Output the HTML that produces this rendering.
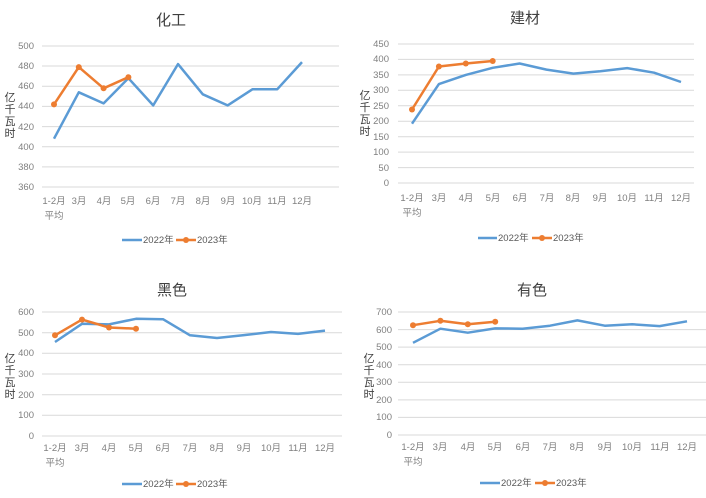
<!DOCTYPE html>
<html><head><meta charset="utf-8"><style>
html,body{margin:0;padding:0;background:#fff;}
svg{display:block;font-family:"Liberation Sans","Noto Sans CJK SC",sans-serif;}
.t{font-size:15px;fill:#404040;text-anchor:middle;}
.yl{font-size:9.5px;fill:#7f7f7f;text-anchor:end;}
.xl{font-size:9.5px;fill:#7f7f7f;text-anchor:middle;}
.ax{font-size:11px;fill:#404040;text-anchor:middle;}
.lg{font-size:9.5px;fill:#595959;}
.g{stroke:#d9d9d9;stroke-width:1;}
.b{fill:none;stroke:#5B9BD5;stroke-width:2.5;stroke-linejoin:round;}
.o{fill:none;stroke:#ED7D31;stroke-width:2.5;stroke-linejoin:round;}
.m{fill:#ED7D31;}
</style></head><body>
<svg width="706" height="498" viewBox="0 0 706 498">
<!-- Chart 1 -->
<text class="t" x="171" y="25">化工</text>
<g class="g">
<line x1="42" x2="339" y1="46" y2="46"/><line x1="42" x2="339" y1="66" y2="66"/><line x1="42" x2="339" y1="86.3" y2="86.3"/><line x1="42" x2="339" y1="106.4" y2="106.4"/><line x1="42" x2="339" y1="126.6" y2="126.6"/><line x1="42" x2="339" y1="146.7" y2="146.7"/><line x1="42" x2="339" y1="166.9" y2="166.9"/><line x1="42" x2="339" y1="187" y2="187"/>
</g>
<g class="yl"><text x="34" y="49">500</text><text x="34" y="69">480</text><text x="34" y="89">460</text><text x="34" y="109">440</text><text x="34" y="130">420</text><text x="34" y="150">400</text><text x="34" y="170">380</text><text x="34" y="190">360</text></g>
<g class="ax"><text x="10" y="101">亿</text><text x="10" y="113">千</text><text x="10" y="125">瓦</text><text x="10" y="137">时</text></g>
<g class="xl"><text x="54" y="204">1-2月</text><text x="54" y="219">平均</text><text x="79" y="204">3月</text><text x="104" y="204">4月</text><text x="128" y="204">5月</text><text x="153" y="204">6月</text><text x="178" y="204">7月</text><text x="203" y="204">8月</text><text x="228" y="204">9月</text><text x="252" y="204">10月</text><text x="277" y="204">11月</text><text x="302" y="204">12月</text></g>
<polyline class="b" points="54,138.7 78.8,92.3 103.6,103.4 128.4,78.2 153.2,105.4 178,64.1 202.8,94.3 227.6,105.4 252.4,89.3 277.2,89.3 302,62.1"/>
<polyline class="o" points="54,104.4 78.8,67.1 103.6,88.3 128.4,77.2"/>
<g class="m"><circle cx="54" cy="104.4" r="3"/><circle cx="78.8" cy="67.1" r="3"/><circle cx="103.6" cy="88.3" r="3"/><circle cx="128.4" cy="77.2" r="3"/></g>
<line x1="122" x2="142" y1="240" y2="240" stroke="#5B9BD5" stroke-width="2.5"/><text class="lg" x="143" y="243">2022年</text>
<line x1="176" x2="196" y1="240" y2="240" stroke="#ED7D31" stroke-width="2.5"/><circle class="m" cx="186" cy="240" r="3"/><text class="lg" x="197" y="243">2023年</text>

<!-- Chart 2 -->
<text class="t" x="525" y="23">建材</text>
<g class="g">
<line x1="398" x2="694" y1="44" y2="44"/><line x1="398" x2="694" y1="59.4" y2="59.4"/><line x1="398" x2="694" y1="74.9" y2="74.9"/><line x1="398" x2="694" y1="90.3" y2="90.3"/><line x1="398" x2="694" y1="105.8" y2="105.8"/><line x1="398" x2="694" y1="121.2" y2="121.2"/><line x1="398" x2="694" y1="136.7" y2="136.7"/><line x1="398" x2="694" y1="152.1" y2="152.1"/><line x1="398" x2="694" y1="167.6" y2="167.6"/><line x1="398" x2="694" y1="183" y2="183"/>
</g>
<g class="yl"><text x="389" y="47">450</text><text x="389" y="62">400</text><text x="389" y="78">350</text><text x="389" y="93">300</text><text x="389" y="109">250</text><text x="389" y="124">200</text><text x="389" y="140">150</text><text x="389" y="155">100</text><text x="389" y="171">50</text><text x="389" y="186">0</text></g>
<g class="ax"><text x="365" y="99">亿</text><text x="365" y="111">千</text><text x="365" y="123">瓦</text><text x="365" y="135">时</text></g>
<g class="xl"><text x="412" y="201">1-2月</text><text x="412" y="216">平均</text><text x="439" y="201">3月</text><text x="466" y="201">4月</text><text x="493" y="201">5月</text><text x="520" y="201">6月</text><text x="547" y="201">7月</text><text x="573" y="201">8月</text><text x="600" y="201">9月</text><text x="627" y="201">10月</text><text x="654" y="201">11月</text><text x="681" y="201">12月</text></g>
<polyline class="b" points="412,123.7 438.9,84.1 465.8,74.9 492.7,67.8 519.6,63.5 546.5,69.6 573.4,73.6 600.3,71.2 627.2,68.1 654.1,72.7 681,82"/>
<polyline class="o" points="412,109.5 438.9,66.5 465.8,63.5 492.7,61"/>
<g class="m"><circle cx="412" cy="109.5" r="3"/><circle cx="438.9" cy="66.5" r="3"/><circle cx="465.8" cy="63.5" r="3"/><circle cx="492.7" cy="61" r="3"/></g>
<line x1="478" x2="497" y1="238" y2="238" stroke="#5B9BD5" stroke-width="2.5"/><text class="lg" x="498" y="241">2022年</text>
<line x1="532" x2="552" y1="238" y2="238" stroke="#ED7D31" stroke-width="2.5"/><circle class="m" cx="542" cy="238" r="3"/><text class="lg" x="553" y="241">2023年</text>

<!-- Chart 3 -->
<text class="t" x="172" y="295">黑色</text>
<g class="g">
<line x1="42" x2="342" y1="312" y2="312"/><line x1="42" x2="342" y1="332.7" y2="332.7"/><line x1="42" x2="342" y1="353.3" y2="353.3"/><line x1="42" x2="342" y1="374" y2="374"/><line x1="42" x2="342" y1="394.7" y2="394.7"/><line x1="42" x2="342" y1="415.3" y2="415.3"/><line x1="42" x2="342" y1="436" y2="436"/>
</g>
<g class="yl"><text x="34" y="315">600</text><text x="34" y="336">500</text><text x="34" y="356">400</text><text x="34" y="377">300</text><text x="34" y="398">200</text><text x="34" y="418">100</text><text x="34" y="439">0</text></g>
<g class="ax"><text x="10" y="362">亿</text><text x="10" y="374">千</text><text x="10" y="386">瓦</text><text x="10" y="398">时</text></g>
<g class="xl"><text x="55" y="451">1-2月</text><text x="55" y="466">平均</text><text x="82" y="451">3月</text><text x="109" y="451">4月</text><text x="136" y="451">5月</text><text x="163" y="451">6月</text><text x="190" y="451">7月</text><text x="217" y="451">8月</text><text x="244" y="451">9月</text><text x="271" y="451">10月</text><text x="298" y="451">11月</text><text x="325" y="451">12月</text></g>
<polyline class="b" points="55,342 82,323.8 109,324.4 136,318.8 163,319.2 190,335.3 217,338 244,335.1 271,332 298,333.9 325,330.6"/>
<polyline class="o" points="55,335.3 82,319.6 109,327.5 136,328.7"/>
<g class="m"><circle cx="55" cy="335.3" r="3"/><circle cx="82" cy="319.6" r="3"/><circle cx="109" cy="327.5" r="3"/><circle cx="136" cy="328.7" r="3"/></g>
<line x1="122" x2="142" y1="484" y2="484" stroke="#5B9BD5" stroke-width="2.5"/><text class="lg" x="143" y="487">2022年</text>
<line x1="176" x2="196" y1="484" y2="484" stroke="#ED7D31" stroke-width="2.5"/><circle class="m" cx="186" cy="484" r="3"/><text class="lg" x="197" y="487">2023年</text>

<!-- Chart 4 -->
<text class="t" x="532" y="295">有色</text>
<g class="g">
<line x1="398" x2="706" y1="312" y2="312"/><line x1="398" x2="706" y1="329.6" y2="329.6"/><line x1="398" x2="706" y1="347.1" y2="347.1"/><line x1="398" x2="706" y1="364.7" y2="364.7"/><line x1="398" x2="706" y1="382.3" y2="382.3"/><line x1="398" x2="706" y1="399.9" y2="399.9"/><line x1="398" x2="706" y1="417.4" y2="417.4"/><line x1="398" x2="706" y1="435" y2="435"/>
</g>
<g class="yl"><text x="392" y="315">700</text><text x="392" y="333">600</text><text x="392" y="350">500</text><text x="392" y="368">400</text><text x="392" y="385">300</text><text x="392" y="403">200</text><text x="392" y="420">100</text><text x="392" y="438">0</text></g>
<g class="ax"><text x="369" y="362">亿</text><text x="369" y="374">千</text><text x="369" y="386">瓦</text><text x="369" y="398">时</text></g>
<g class="xl"><text x="413" y="450">1-2月</text><text x="413" y="465">平均</text><text x="440" y="450">3月</text><text x="468" y="450">4月</text><text x="495" y="450">5月</text><text x="523" y="450">6月</text><text x="550" y="450">7月</text><text x="577" y="450">8月</text><text x="605" y="450">9月</text><text x="632" y="450">10月</text><text x="660" y="450">11月</text><text x="687" y="450">12月</text></g>
<polyline class="b" points="413,342.8 440.4,328.7 467.8,332.7 495.2,328.4 522.6,328.7 550,325.7 577.4,320.4 604.8,325.7 632.2,324.3 659.6,326.1 687,321.3"/>
<polyline class="o" points="413,325.2 440.4,320.8 467.8,324.3 495.2,321.7"/>
<g class="m"><circle cx="413" cy="325.2" r="3"/><circle cx="440.4" cy="320.8" r="3"/><circle cx="467.8" cy="324.3" r="3"/><circle cx="495.2" cy="321.7" r="3"/></g>
<line x1="480" x2="500" y1="483" y2="483" stroke="#5B9BD5" stroke-width="2.5"/><text class="lg" x="501" y="486">2022年</text>
<line x1="535" x2="555" y1="483" y2="483" stroke="#ED7D31" stroke-width="2.5"/><circle class="m" cx="545" cy="483" r="3"/><text class="lg" x="556" y="486">2023年</text>
</svg>
</body></html>
